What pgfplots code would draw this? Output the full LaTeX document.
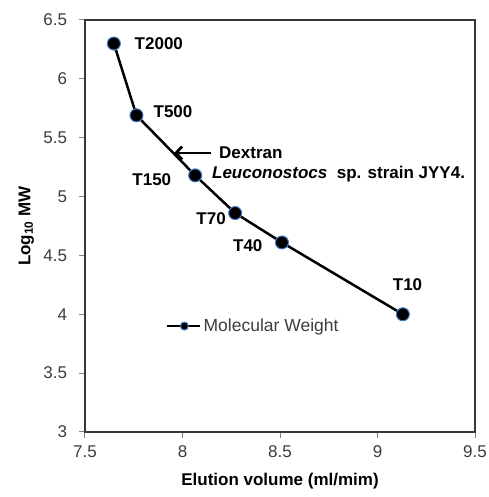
\documentclass[border=0pt]{standalone}
\usepackage{pgfplots}
\pgfplotsset{compat=1.18}
\usepackage{fontspec}
\setmainfont{Liberation Sans}
\usetikzlibrary{arrows.meta}

\definecolor{markedge}{RGB}{70,120,200}
\definecolor{axisgray}{RGB}{55,55,55}
\definecolor{tickgray}{RGB}{130,130,130}
\definecolor{labelgray}{RGB}{60,60,60}

\begin{document}
\fontsize{17}{20}\selectfont
\begin{tikzpicture}
\begin{axis}[
  scale only axis, width=390pt, height=412pt,
  xmin=7.5, xmax=9.5, ymin=3, ymax=6.5,
  xtick={7.5,8,8.5,9,9.5}, ytick={3,3.5,4,4.5,5,5.5,6,6.5},
  tick align=outside, tick pos=left,
  major tick length=6pt,
  every tick/.style={tickgray, line width=1pt},
  axis line style={axisgray, line width=2.5pt},
  /pgf/number format/assume math mode=true,
  ticklabel style={font=\fontsize{17}{20}\selectfont, text=labelgray},
  xticklabel style={yshift=-2pt},
  yticklabel style={xshift=-6pt},
  xlabel={\bfseries Elution volume (ml/mim)},
  ylabel={\bfseries Log\textsubscript{10} MW},
  xlabel style={yshift=-4pt},
  ylabel style={yshift=-2pt},
  legend style={at={(axis cs:7.915,3.9)}, anchor=west, draw=none, fill=none,
    inner sep=0pt, font=\fontsize{17.5}{20}\selectfont, text=labelgray},
  legend cell align=left,
  legend image code/.code={
    \draw[#1, mark=none] (0pt,0pt) -- (33pt,0pt);
    \draw[#1, only marks, mark size=4pt] plot coordinates {(17pt,0pt)};
  },
]
\addplot[black, line width=2.5pt, mark=*, mark size=6.5pt,
  mark options={fill=black, draw=markedge, line width=1pt}]
  coordinates {
    (7.648, 6.30)
    (7.764, 5.69)
    (8.065, 5.18)
    (8.270, 4.86)
    (8.510, 4.61)
    (9.130, 4.00)
  };
\addlegendentry{Molecular Weight}

\node[anchor=west, font=\bfseries, inner sep=0pt] at (axis cs:7.754,6.30) {T2000};
\node[anchor=west, font=\bfseries, inner sep=0pt] at (axis cs:7.851,5.718) {T500};
\node[anchor=east, font=\bfseries, inner sep=0pt] at (axis cs:7.943,5.141) {T150};
\node[anchor=east, font=\bfseries, inner sep=0pt] at (axis cs:8.223,4.809) {T70};
\node[anchor=east, font=\bfseries, inner sep=0pt] at (axis cs:8.411,4.58) {T40};
\node[font=\bfseries, inner sep=0pt] at (axis cs:9.154,4.249) {T10};
\node[anchor=west, font=\bfseries, inner sep=0pt] at (axis cs:8.187,5.37) {Dextran};
\node[anchor=west, font=\bfseries, inner sep=0pt] at (axis cs:8.151,5.192) {\textit{Leuconostocs}\ \ sp. strain JYY4.};
\draw[-{Straight Barb[length=6pt,width=13pt]}, line width=2.8pt]
  (axis cs:8.146,5.37) -- (axis cs:7.957,5.37);
\end{axis}
\pgfresetboundingbox
\path (current axis.south west) ++(-85pt,-65pt) coordinate (bl);
\path (current axis.north east) ++(13pt,20pt) coordinate (tr);
\path (bl) rectangle (tr);
\end{tikzpicture}
\end{document}
